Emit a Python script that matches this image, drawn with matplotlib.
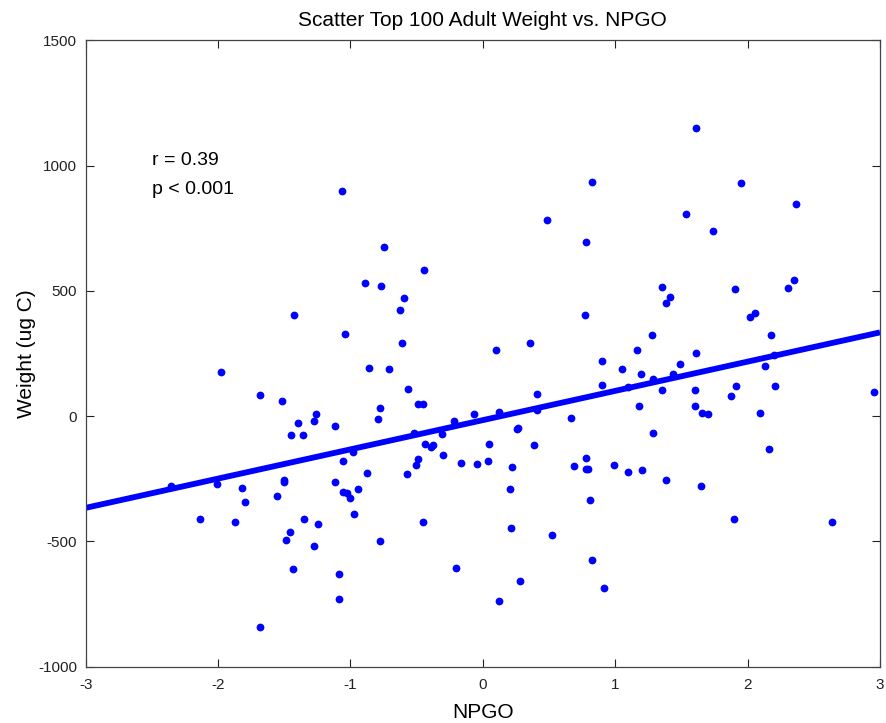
import numpy as np
import matplotlib
matplotlib.use("Agg")
import matplotlib.pyplot as plt

plt.rcParams['font.family'] = ['Liberation Sans', 'DejaVu Sans']
plt.rcParams['axes.unicode_minus'] = False

# NPGO index values
npgo = [
    -1.06, -0.888, -0.766, -1.426, -1.042, -0.745, -0.443, -0.599, -0.624, -0.612,
    0.098, 0.353, 0.486, 0.821, 0.783, 0.770, 1.163, 1.279, 1.357, 1.415,
    1.382, 1.609, 1.949, 2.364, 1.531, 1.742, 1.906, 2.304, 2.352, 2.019,
    2.057, 2.175, 1.614, -1.976, -1.681, -1.515, -0.861, -0.780, -0.790, -1.261,
    -1.274, -1.397, -1.450, -1.356, -1.113, -0.982, -1.054, -0.876, -1.113, -1.054,
    -1.024, -1.004, -0.941, -0.971, -2.354, -2.006, -1.822, -1.797, -2.140, -1.870,
    -1.558, -1.505, -1.500, -1.352, -1.248, -1.460, -1.488, -1.274, -1.437, -1.090,
    -1.090, -1.681, -0.780, -0.712, -0.563, -0.490, -0.450, -0.518, -0.307, -0.440,
    -0.390, -0.378, -0.302, -0.493, -0.508, -0.571, -0.216, -0.063, -0.166, -0.042,
    0.041, 0.048, 0.124, 0.267, 0.255, 0.388, 0.406, 0.411, 0.222, 0.209,
    0.214, -0.455, -0.204, 0.119, 0.282, 0.519, 0.668, 0.685, 0.778, 0.780,
    0.795, 0.808, 0.821, 0.919, 0.897, 0.897, 1.055, 1.098, 1.196, 1.176,
    1.287, 1.352, 1.435, 1.486, 1.287, 0.990, 1.098, 1.204, 1.382, 1.601,
    1.601, 1.654, 1.699, 1.873, 1.914, 2.128, 2.205, 2.097, 2.163, 1.647,
    1.899, 2.634, 2.958, 2.200,
]

# adult weight (ug C)
weight = [
    897, 532, 518, 402, 328, 673, 584, 472, 424, 293,
    265, 293, 782, 936, 693, 402, 265, 324, 516, 474,
    450, 1148, 929, 846, 806, 737, 509, 512, 543, 397,
    413, 325, 253, 177, 85, 61, 192, 33, -11, 10,
    -19, -27, -76, -76, -41, -143, -179, -228, -263, -303,
    -307, -328, -289, -389, -279, -269, -287, -343, -411, -421,
    -317, -253, -261, -411, -431, -461, -496, -517, -612, -632,
    -728, -841, -499, 187, 109, 49, 50, -67, -72, -112,
    -123, -117, -155, -173, -196, -232, -21, 8, -188, -192,
    -178, -110, 17, -48, -52, -117, 88, 25, -205, -291,
    -448, -421, -605, -739, -660, -476, -8, -199, -168, -213,
    -210, -335, -575, -684, 219, 123, 187, 117, 167, 40,
    147, 105, 167, 208, -69, -196, -223, -215, -256, 105,
    41, 13, 10, 82, 120, 199, 120, 13, -130, -280,
    -411, -424, 96, 245,
]

# least-squares line as drawn on the chart
fit_slope = 116.7
fit_intercept = -16.0
stats_text = ["r = 0.39", "p < 0.001"]

fig = plt.figure(figsize=(8.86, 7.23), dpi=100)
ax = fig.add_axes([0.0967, 0.0779, 0.8965, 0.8664])

ax.plot(npgo, weight, 'o', color='#0000ff', markersize=5.6, markeredgewidth=0)

xfit = np.array([-3, 3])
ax.plot(xfit, fit_slope * xfit + fit_intercept, '-', color='#0000ff', linewidth=4.2,
        solid_capstyle='butt')

ax.set_xlim(-3, 3)
ax.set_ylim(-1000, 1500)
ax.set_xticks(range(-3, 4))
ax.set_yticks(range(-1000, 1501, 500))
ax.tick_params(direction='in', top=True, right=True, length=6, width=0.8,
               labelsize=11, colors='#222222')
ax.tick_params(axis='x', pad=8)
ax.tick_params(axis='y', pad=6)
for s in ax.spines.values():
    s.set_color('#444444')
    s.set_linewidth(0.9)

ax.text(-2.5, 1021, stats_text[0], fontsize=14, va='center', ha='left')
ax.text(-2.5, 905, stats_text[1], fontsize=14, va='center', ha='left')

ax.set_title('Scatter Top 100 Adult Weight vs. NPGO', fontsize=15, pad=10)
ax.set_xlabel('NPGO', fontsize=15, labelpad=8)
ax.set_ylabel('Weight (ug C)', fontsize=15, labelpad=2)

fig.savefig('out.png', dpi=100)
